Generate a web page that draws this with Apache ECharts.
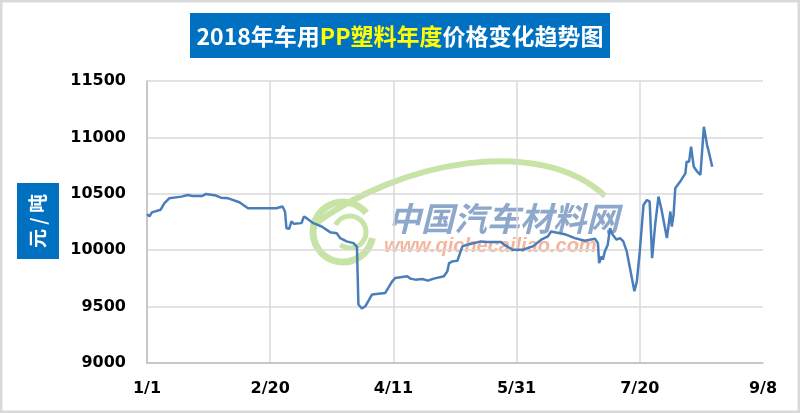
<!DOCTYPE html>
<html>
<head>
<meta charset="utf-8">
<script src="https://cdn.jsdelivr.net/npm/echarts@6/dist/echarts.min.js"></script>
<style>
  html, body { margin: 0; padding: 0; background: #fff; }
  #price-trend { width: 800px; height: 413px; }
</style>
</head>
<body>
<div id="price-trend"></div>
<script>
// day offset from 1/1 and price (元/吨)
const days = [0, 1, 2, 5.5, 7, 9, 14, 16.5, 18.5, 22.5, 24, 28, 30, 33, 37.5, 41, 41.6, 52.5, 55, 56,
  56.6, 57.7, 58.6, 59.6, 62.7, 63.7, 64.8, 67.5, 70.9, 74.3, 77, 78.4, 81, 83.8, 85.2, 85.8, 87.2, 88.6,
  91.3, 96.7, 99.5, 100.8, 105.6, 106.9, 109, 111.7, 114, 116.4, 120.5, 121.9, 122.6, 124, 126, 128, 130,
  135.5, 138, 143.7, 145, 148.4, 152.5, 156.6, 160, 162.7, 164, 169.5, 173.6, 177.7, 181.8, 183, 183.5,
  184.5, 185, 185.8, 187, 187.9, 189, 190.6, 192, 193.3, 194.7, 196, 197.8, 198.8, 200, 201.5, 202.9,
  204, 205, 206.3, 207, 207.6, 208.7, 211, 212.4, 213, 213.7, 214.4, 216.4, 218.5, 219, 220, 220.8,
  221.9, 223.3, 224.6, 226, 227.3, 228, 229.4];
const prices = [10320, 10300, 10335, 10358, 10416, 10460, 10475, 10490, 10481, 10481, 10499, 10484, 10466, 10460, 10425, 10372, 10380, 10372, 10387, 10343,
  10195, 10190, 10255, 10234, 10240, 10299, 10284, 10240, 10210, 10160, 10151, 10107, 10078, 10063, 10030, 9519, 9483, 9503,
  9607, 9621, 9724, 9754, 9769, 9748, 9739, 9745, 9730, 9748, 9769, 9813, 9886, 9901, 9907, 10034, 10049,
  10078, 10072, 10072, 10049, 10004, 10004, 10034, 10093, 10122, 10166, 10142, 10107, 10084, 10101, 10063, 9886,
  9945, 9916, 9989, 10049, 10195, 10137, 10093, 10107, 10078, 9989, 9842, 9636, 9724, 9989, 10401, 10445,
  10431, 9930, 10240, 10254, 10475, 10372, 10107, 10343, 10210, 10313, 10549, 10608, 10681, 10785, 10785, 10917,
  10740, 10696, 10667, 11094, 10932, 10873, 10740];
const xLabels = ['1/1', '2/20', '4/11', '5/31', '7/20', '9/8'];
const yTicks = [9000, 9500, 10000, 10500, 11000, 11500];

const chart = echarts.init(document.getElementById('price-trend'));
const labelFont = 'DejaVu Sans';
const cjk = '"Noto Sans CJK SC"';

chart.setOption({
  animation: false,
  grid: { left: 147, right: 37, top: 81, bottom: 50 },
  xAxis: {
    type: 'value',
    min: 0,
    max: 250,
    interval: 50,
    axisLine: { show: true, lineStyle: { color: '#bfbfbf', width: 1.5 } },
    axisTick: { show: false },
    splitLine: { show: true, showMaxLine: false, lineStyle: { color: '#d9d9d9', width: 1.5 } },
    axisLabel: {
      margin: 18,
      fontFamily: labelFont,
      fontWeight: 'bold',
      fontSize: 16,
      color: '#000',
      formatter: v => xLabels[Math.round(v / 50)]
    }
  },
  yAxis: {
    type: 'value',
    min: yTicks[0],
    max: yTicks[yTicks.length - 1],
    interval: 500,
    axisLine: { show: true, lineStyle: { color: '#bfbfbf', width: 1.5 } },
    axisTick: { show: false },
    splitLine: { lineStyle: { color: '#d9d9d9', width: 1.5 } },
    axisLabel: {
      margin: 21,
      fontFamily: labelFont,
      fontWeight: 'bold',
      fontSize: 16,
      color: '#000',
      formatter: v => String(v)
    }
  },
  graphic: [
    // outer frame
    { type: 'rect', z: 0, shape: { x: 1, y: 1, width: 798, height: 411 },
      style: { fill: null, stroke: '#d9d9d9', lineWidth: 3 } },
    // watermark
    { type: 'bezierCurve', z: 0,
      shape: { x1: 312, y1: 226, cpx1: 400, cpy1: 160, cpx2: 540, cpy2: 135, x2: 605, y2: 196 },
      style: { stroke: '#c8e3a6', lineWidth: 6, fill: null } },
    { type: 'arc', z: 0, shape: { cx: 343, cy: 232, r: 30, startAngle: 0.2, endAngle: 5.6 },
      style: { stroke: '#c8e3a6', lineWidth: 7, fill: null } },
    { type: 'arc', z: 0, shape: { cx: 350, cy: 232, r: 16, startAngle: 3.6, endAngle: 8.5 },
      style: { stroke: '#c8e3a6', lineWidth: 5, fill: null } },
    { type: 'text', z: 0, x: 388, y: 202,
      style: { text: '中国汽车材料网', fill: '#8ea8cb', font: 'italic bold 33px ' + cjk } },
    { type: 'text', z: 0, x: 384, y: 236,
      style: { text: 'www.qichecailiao.com', fill: '#f6b59a', font: 'italic bold 20px "Liberation Sans"' } },
    // title box
    { type: 'rect', z: 5, shape: { x: 190, y: 13, width: 420, height: 45 },
      style: { fill: '#0070c0' } },
    { type: 'text', z: 6, x: 400, y: 36,
      style: {
        text: '{w|2018年车用}{y|PP塑料年度}{w|价格变化趋势图}',
        align: 'center',
        verticalAlign: 'middle',
        rich: {
          w: { fill: '#fff', fontFamily: cjk, fontWeight: 'bold', fontSize: 23 },
          y: { fill: '#ffff00', fontFamily: cjk, fontWeight: 'bold', fontSize: 23 }
        }
      } },
    // unit box
    { type: 'rect', z: 5, shape: { x: 17, y: 183, width: 42, height: 76 },
      style: { fill: '#0070c0' } },
    { type: 'text', z: 6, x: 38, y: 221, rotation: Math.PI / 2,
      style: { text: '元 / 吨', fill: '#fff', font: 'bold 19px ' + cjk, align: 'center', verticalAlign: 'middle' } }
  ],
  series: [{
    type: 'line',
    z: 3,
    showSymbol: false,
    symbol: 'none',
    data: days.map((d, i) => [d, prices[i]]),
    lineStyle: { color: '#4a7ebb', width: 2.5 }
  }]
});
</script>
</body>
</html>
